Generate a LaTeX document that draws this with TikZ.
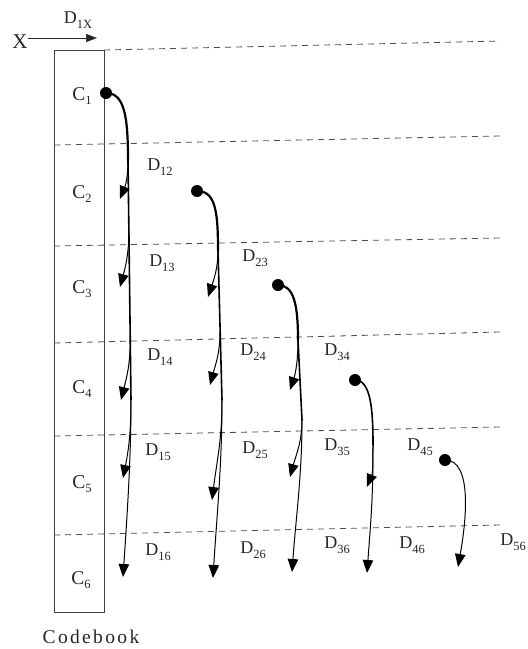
\documentclass[tikz,border=0pt]{standalone}
\usepackage{fontspec}
\setmainfont{Liberation Serif}
\usetikzlibrary{arrows.meta}
\newcommand\lbl[2]{#1\raisebox{-4.5pt}{\fontsize{12.5}{13}\selectfont #2}}
\begin{document}
\begin{tikzpicture}[x=1pt,y=-1pt,
 dlabel/.style={font=\fontsize{18}{20}\selectfont, inner sep=0pt, text=black!85},
 clabel/.style={font=\fontsize{19.5}{21}\selectfont, inner sep=0pt, text=black!85},
 gridline/.style={dash pattern=on 6pt off 5pt, line width=0.8pt, black!70},
 boxline/.style={line width=0.8pt, black!75},
 trunkA/.style={line width=2.2pt, black},
 trunkB/.style={line width=1.6pt, black},
 conn/.style={line width=1pt, black, -{Triangle[length=13pt,width=10.5pt]}},
 src/.style={circle, fill=black, inner sep=0pt, minimum size=12pt}]
\useasboundingbox (0,0) rectangle (528,649);
% codebook box and row lines
\draw[boxline] (54,50) rectangle (104,612);
\draw[gridline] (104,50) -- (500,41);
\draw[gridline] (54,145) -- (500,136);
\draw[gridline] (54,246) -- (500,238);
\draw[gridline] (54,343) -- (500,332);
\draw[gridline] (54,436) -- (500,427);
\draw[gridline] (54,535) -- (500,525);
% codebook labels
\node[clabel] (c1) at (82,96) {\lbl{C}{1}};
\node[clabel] (c2) at (82,194) {\lbl{C}{2}};
\node[clabel] (c3) at (82,289) {\lbl{C}{3}};
\node[clabel] (c4) at (82,389) {\lbl{C}{4}};
\node[clabel] (c5) at (82,484) {\lbl{C}{5}};
\node[clabel] (c6) at (81,580) {\lbl{C}{6}};
\node[font=\fontsize{19.5}{21}\selectfont\addfontfeature{LetterSpace=12}, inner sep=0pt, text=black!85] (cb) at (91,637) {Codebook};
% input
\node[font=\fontsize{21}{22}\selectfont, inner sep=0pt, text=black!85] (X) at (20,42) {X};
\node[dlabel] (d1x) at (78,20) {\lbl{D}{1X}};
\coordinate (xt) at (97,38);
\draw[line width=0.7pt, black!85, -{Triangle[length=11pt,width=8pt]}] (X.east |- xt) -- (xt);
% sources
\node[src] (s1) at (106,93) {};
\node[src] (s2) at (197,191) {};
\node[src] (s3) at (278,285) {};
\node[src] (s4) at (355,380) {};
\node[src] (s5) at (445,460) {};
% trunk points
\coordinate (t1a) at (128,160);
\coordinate (b13) at (128.9,230);
\coordinate (b14) at (130.2,340);
\coordinate (t1b) at (131,400);
\coordinate (t2a) at (218,250);
\coordinate (b24) at (220.1,330);
\coordinate (t2b) at (222,400);
\coordinate (t3a) at (298,340);
\coordinate (t3b) at (302,420);
\coordinate (t4a) at (373,445);
% ends
\coordinate (e12) at (120,199);
\coordinate (e13) at (120,287);
\coordinate (e14) at (121,400);
\coordinate (e15) at (123,478);
\coordinate (e16) at (123,577);
\coordinate (e23) at (208,297);
\coordinate (e24) at (210,385);
\coordinate (e25) at (212,500);
\coordinate (e26) at (213,578);
\coordinate (e34) at (290,390);
\coordinate (e35) at (290,477);
\coordinate (e36) at (292,572);
\coordinate (e45) at (367,487);
\coordinate (e46) at (367,573);
\coordinate (e56) at (458,567);
% trunks
\draw[trunkA] (s1.center) .. controls +(18,0) and +(0,-45) .. (t1a);
\draw[trunkB] (t1a) -- (t1b);
\draw[trunkA] (s2.center) .. controls +(18,0) and +(0,-40) .. (t2a);
\draw[trunkB] (t2a) -- (t2b);
\draw[trunkA] (s3.center) .. controls +(16,0) and +(0,-35) .. (t3a);
\draw[trunkB] (t3a) -- (t3b);
\draw[trunkB] (s4.center) .. controls +(16,0) and +(0,-35) .. (t4a);
% branches
\draw[conn] (t1a) .. controls +(0,15) and +(6,-15) .. (e12);
\draw[conn] (b13) .. controls +(0,22) and +(6,-22) .. (e13);
\draw[conn] (b14) .. controls +(0,24) and +(6,-24) .. (e14);
\draw[conn] (t1b) .. controls +(0,30) and +(6,-30) .. (e15);
\draw[conn] (t1b) .. controls +(0,60) and +(4,-60) .. (e16);
\draw[conn] (t2a) .. controls +(0,18) and +(6,-18) .. (e23);
\draw[conn] (b24) .. controls +(0,22) and +(6,-22) .. (e24);
\draw[conn] (t2b) .. controls +(0,40) and +(5,-40) .. (e25);
\draw[conn] (t2b) .. controls +(0,65) and +(4,-65) .. (e26);
\draw[conn] (t3a) .. controls +(0,18) and +(6,-18) .. (e34);
\draw[conn] (t3b) .. controls +(0,22) and +(6,-22) .. (e35);
\draw[conn] (t3b) .. controls +(0,55) and +(4,-55) .. (e36);
\draw[conn] (t4a) .. controls +(0,15) and +(6,-15) .. (e45);
\draw[conn] (t4a) .. controls +(0,55) and +(4,-55) .. (e46);
\draw[conn] (s5.center) .. controls +(28,0) and +(8,-45) .. (e56);
% distance labels
\node[dlabel] (d12) at (160,167) {\lbl{D}{12}};
\node[dlabel] (d13) at (162,263) {\lbl{D}{13}};
\node[dlabel] (d14) at (160,357) {\lbl{D}{14}};
\node[dlabel] (d15) at (158,452) {\lbl{D}{15}};
\node[dlabel] (d16) at (158,552) {\lbl{D}{16}};
\node[dlabel] (d23) at (255,258) {\lbl{D}{23}};
\node[dlabel] (d24) at (253,352) {\lbl{D}{24}};
\node[dlabel] (d25) at (255,450) {\lbl{D}{25}};
\node[dlabel] (d26) at (253,550) {\lbl{D}{26}};
\node[dlabel] (d34) at (337,352) {\lbl{D}{34}};
\node[dlabel] (d35) at (337,447) {\lbl{D}{35}};
\node[dlabel] (d36) at (337,545) {\lbl{D}{36}};
\node[dlabel] (d45) at (420,447) {\lbl{D}{45}};
\node[dlabel] (d46) at (412,545) {\lbl{D}{46}};
\node[dlabel] (d56) at (513,542) {\lbl{D}{56}};
\end{tikzpicture}
\end{document}
